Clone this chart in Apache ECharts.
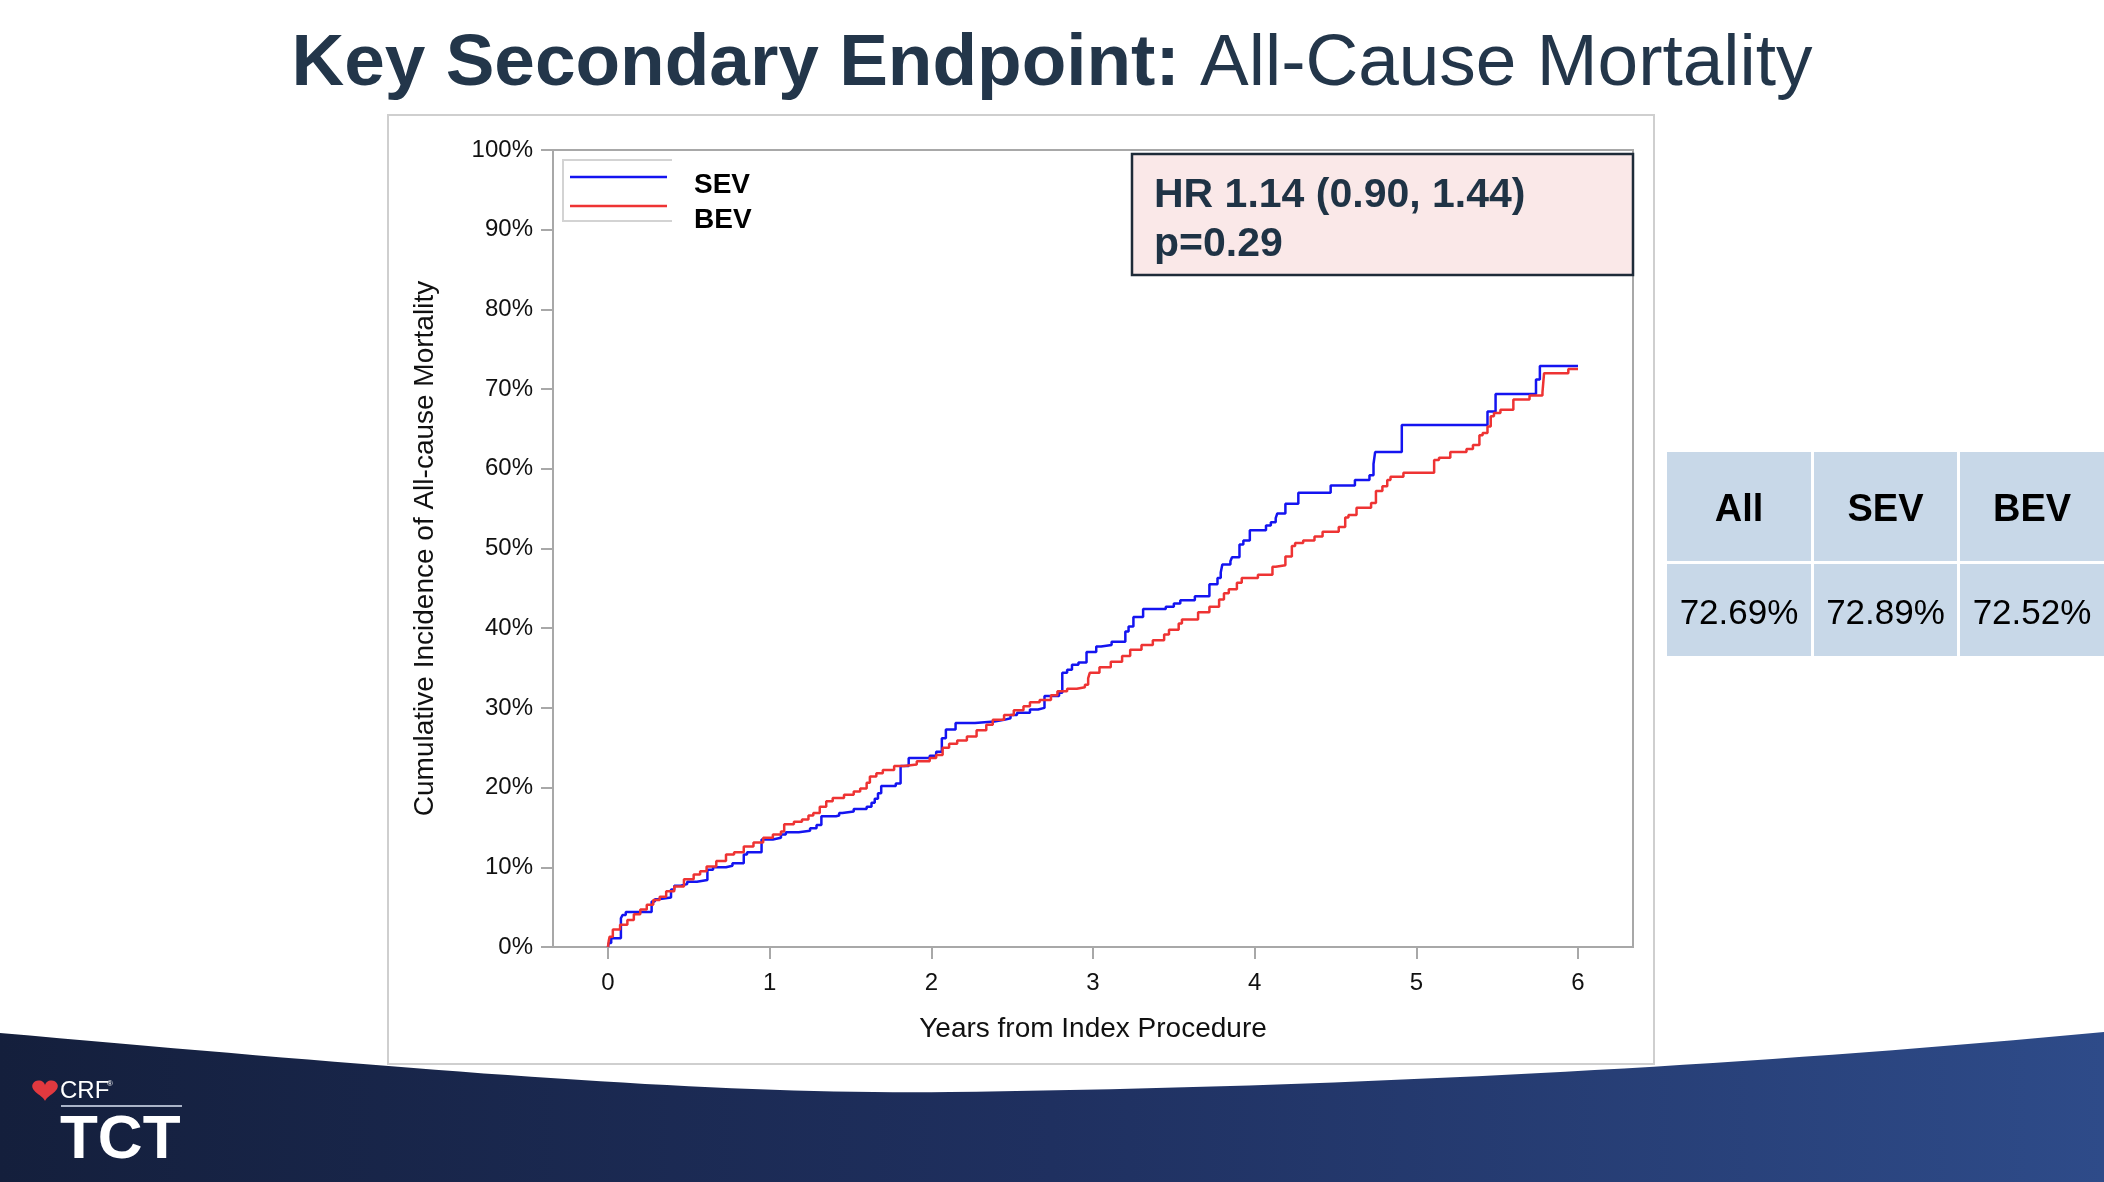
<!DOCTYPE html>
<html><head><meta charset="utf-8">
<script src="https://cdn.jsdelivr.net/npm/echarts@6.0.0/dist/echarts.min.js"></script>
<style>html,body{margin:0;padding:0;background:#fff;overflow:hidden}#c{width:2104px;height:1182px}</style>
</head><body><div id="c"></div>
<script>
// ---- data (years, cumulative incidence %) ----
const seriesNames = ['SEV', 'BEV'];
const sevData = [[0,0],[0.005,0.5],[0.02,1.1],[0.08,3.6],[0.09,4.0],[0.11,4.4],[0.27,5.7],[0.29,6.0],[0.31,6.2],[0.39,7.2],[0.41,7.7],[0.45,7.9],[0.49,8.2],[0.55,8.4],[0.615,9.7],[0.65,10.0],[0.73,10.2],[0.77,10.5],[0.84,11.6],[0.86,11.9],[0.95,13.5],[1.02,13.7],[1.07,14.1],[1.1,14.4],[1.18,14.6],[1.25,14.9],[1.29,15.3],[1.32,16.4],[1.41,16.5],[1.43,16.8],[1.45,17.0],[1.52,17.3],[1.6,17.6],[1.63,18.1],[1.65,18.6],[1.67,19.3],[1.69,20.2],[1.78,20.5],[1.81,22.7],[1.86,23.7],[1.99,24.0],[2.03,24.5],[2.065,26.2],[2.09,27.3],[2.15,28.1],[2.27,28.3],[2.39,28.5],[2.45,28.7],[2.49,29.1],[2.53,29.4],[2.61,29.8],[2.66,30.0],[2.70,31.5],[2.79,31.9],[2.81,34.4],[2.84,34.8],[2.87,35.4],[2.91,35.7],[2.96,37.0],[3.02,37.7],[3.05,37.9],[3.115,38.3],[3.20,39.6],[3.22,40.2],[3.25,41.4],[3.31,42.4],[3.45,42.7],[3.50,43.1],[3.54,43.5],[3.63,44.0],[3.72,45.5],[3.77,46.3],[3.79,47.0],[3.80,48.0],[3.85,48.4],[3.86,48.9],[3.906,50.5],[3.93,51.0],[3.97,52.3],[4.07,52.9],[4.10,53.3],[4.13,53.8],[4.14,54.4],[4.19,55.6],[4.27,57.0],[4.47,57.9],[4.62,58.6],[4.71,59.2],[4.735,60.6],[4.745,62.1],[4.91,65.5],[5.44,67.2],[5.49,69.4],[5.74,71.2],[5.764,72.89],[6.0,72.89]];
const bevData = [[0,0],[0.005,0.8],[0.01,1.3],[0.03,2.2],[0.075,2.8],[0.12,3.4],[0.16,4.1],[0.2,4.7],[0.24,5.3],[0.28,5.9],[0.32,6.3],[0.36,7.0],[0.41,7.6],[0.47,8.5],[0.53,9.1],[0.57,9.5],[0.61,10.1],[0.67,10.8],[0.73,11.6],[0.78,11.9],[0.84,12.6],[0.9,13.1],[0.96,13.7],[1.02,14.1],[1.07,14.5],[1.09,15.4],[1.15,15.7],[1.2,16.0],[1.24,16.5],[1.27,16.8],[1.31,17.6],[1.35,18.3],[1.39,18.7],[1.46,19.1],[1.52,19.5],[1.56,19.9],[1.60,20.6],[1.62,21.4],[1.66,21.8],[1.70,22.2],[1.77,22.7],[1.83,22.9],[1.91,23.3],[1.99,23.7],[2.03,24.1],[2.07,25.0],[2.11,25.5],[2.16,25.9],[2.22,26.4],[2.28,27.2],[2.34,27.9],[2.38,28.5],[2.45,29.1],[2.51,29.7],[2.57,30.2],[2.61,30.7],[2.67,31.0],[2.74,31.6],[2.78,32.1],[2.84,32.4],[2.90,32.6],[2.95,32.9],[2.97,33.7],[2.98,34.4],[3.04,35.1],[3.11,35.8],[3.18,36.5],[3.23,37.3],[3.30,37.9],[3.37,38.5],[3.44,39.2],[3.47,39.8],[3.53,40.6],[3.55,41.1],[3.65,42.0],[3.72,42.7],[3.78,43.6],[3.81,44.4],[3.84,44.9],[3.89,45.7],[3.92,46.3],[4.02,46.7],[4.11,47.7],[4.13,47.9],[4.19,49.0],[4.23,50.3],[4.25,50.7],[4.30,51.0],[4.37,51.5],[4.42,52.1],[4.52,52.7],[4.56,53.9],[4.58,54.2],[4.63,55.1],[4.72,55.7],[4.75,57.2],[4.79,57.8],[4.82,58.6],[4.84,59.0],[4.92,59.5],[5.11,61.1],[5.14,61.4],[5.21,62.1],[5.31,62.5],[5.35,63.0],[5.39,64.2],[5.41,64.5],[5.44,65.3],[5.46,66.6],[5.48,67.0],[5.52,67.4],[5.60,68.7],[5.70,69.2],[5.78,69.6],[5.79,72.0],[5.94,72.52],[6.0,72.52]];
const xTickValues = [0, 1, 2, 3, 4, 5, 6];
const tableHeaders = ['All', 'SEV', 'BEV'];
const tableValues = ['72.69%', '72.89%', '72.52%'];
const hrLines = ['HR 1.14 (0.90, 1.44)', 'p=0.29'];
const titleBold = 'Key Secondary Endpoint:';
const titleRegular = 'All-Cause Mortality';
const xAxisName = 'Years from Index Procedure';
const yAxisName = 'Cumulative Incidence of All-cause Mortality';

const FONT = "'Liberation Sans', Arial, Helvetica, sans-serif";
const chart = echarts.init(document.getElementById('c'), null, {renderer: 'canvas'});

// decorative footer band outline (two cubic bezier segments, sampled)
function cubic(p0, p1, p2, p3, n) {
  const out = [];
  for (let i = 0; i <= n; i++) {
    const t = i / n, u = 1 - t;
    out.push([u*u*u*p0[0] + 3*u*u*t*p1[0] + 3*u*t*t*p2[0] + t*t*t*p3[0],
              u*u*u*p0[1] + 3*u*u*t*p1[1] + 3*u*t*t*p2[1] + t*t*t*p3[1]]);
  }
  return out;
}
const bandPts = cubic([0,1033],[400,1068],[700,1095],[950,1092],40)
  .concat(cubic([950,1092],[1300,1088],[1700,1070],[2104,1032],40).slice(1))
  .concat([[2104,1182],[0,1182]]);
// decorative heart logo outline
const heartPts = [];
for (let i = 0; i < 60; i++) {
  const a = i / 60 * Math.PI * 2;
  const hx = 16 * Math.pow(Math.sin(a), 3);
  const hy = 13 * Math.cos(a) - 5 * Math.cos(2*a) - 2 * Math.cos(3*a) - Math.cos(4*a);
  heartPts.push([45 + hx * 0.8, 1089 - hy * 0.72]);
}

// table graphics
const colX = [1667, 1814, 1960], colW = [144, 143, 144];
const tableEls = [];
tableHeaders.forEach((h, i) => {
  tableEls.push({type: 'rect', shape: {x: colX[i], y: 452, width: colW[i], height: 109}, style: {fill: '#c8d8e8'}});
  tableEls.push({type: 'rect', shape: {x: colX[i], y: 564, width: colW[i], height: 92}, style: {fill: '#c8d8e8'}});
  tableEls.push({type: 'text', x: colX[i] + colW[i] / 2, y: 511, style: {text: h, font: 'bold 38px ' + FONT, fill: '#000', align: 'center', verticalAlign: 'middle'}});
  tableEls.push({type: 'text', x: colX[i] + colW[i] / 2, y: 614, style: {text: tableValues[i], font: '35px ' + FONT, fill: '#000', align: 'center', verticalAlign: 'middle'}});
});

const bandGradient = {type: 'linear', x: 0, y: 0, x2: 1, y2: 0, colorStops: [{offset: 0, color: '#141f3c'}, {offset: 0.5, color: '#1f3060'}, {offset: 1, color: '#2e4b89'}]};

const legendCommon = {left: 570, padding: 0, orient: 'vertical', selectedMode: false, icon: 'rect', itemWidth: 97, itemHeight: 2.5};
const option = {
  animation: false,
  backgroundColor: '#ffffff',
  title: {
    text: '{b|' + titleBold + ' }{r|' + titleRegular + '}',
    left: 'center', top: 23,
    textStyle: {
      rich: {
        b: {fontFamily: FONT, fontWeight: 'bold', fontSize: 73, color: '#23364a', lineHeight: 74},
        r: {fontFamily: FONT, fontWeight: 'normal', fontSize: 73, color: '#23364a', lineHeight: 74}
      }
    }
  },
  graphic: [
    {type: 'polygon', z: -20, shape: {points: bandPts}, style: {fill: bandGradient}},
    {type: 'rect', z: -10, shape: {x: 388, y: 115, width: 1266, height: 949}, style: {fill: '#ffffff', stroke: '#cfcfcf', lineWidth: 2}},
    {type: 'polyline', z: 5, shape: {points: [[672, 160], [563, 160], [563, 221], [672, 221]]}, style: {stroke: '#d3d3d3', lineWidth: 2}},
    {type: 'rect', z: 5, shape: {x: 1132, y: 154, width: 501, height: 121}, style: {fill: '#fae8e8', stroke: '#1e2b38', lineWidth: 2.5}},
    {type: 'text', z: 6, x: 1154, y: 196, style: {text: hrLines[0], font: 'bold 41px ' + FONT, fill: '#1f3345', verticalAlign: 'middle'}},
    {type: 'text', z: 6, x: 1154, y: 245, style: {text: hrLines[1], font: 'bold 41px ' + FONT, fill: '#1f3345', verticalAlign: 'middle'}},
    ...tableEls,
    {type: 'polygon', z: 5, shape: {points: heartPts}, style: {fill: '#e2393f'}},
    {type: 'text', z: 5, x: 60, y: 1091, style: {text: 'CRF', font: '24px ' + FONT, fill: '#ffffff', verticalAlign: 'middle'}},
    {type: 'text', z: 5, x: 107, y: 1084, style: {text: '®', font: '8px ' + FONT, fill: '#ffffff', verticalAlign: 'middle'}},
    {type: 'rect', z: 5, shape: {x: 61, y: 1105, width: 121, height: 2}, style: {fill: '#aab4c8'}},
    {type: 'text', z: 5, x: 60, y: 1141, style: {text: 'TCT', font: 'bold 62px ' + FONT, fill: '#ffffff', verticalAlign: 'middle'}}
  ],
  legend: [
    Object.assign({data: ['SEV'], top: 155, formatter: n => '{t|' + n + '}',
      textStyle: {fontFamily: FONT, fontSize: 28, fontWeight: 'bold', color: '#000', padding: [0, 0, 0, 22],
        rich: {t: {fontFamily: FONT, fontSize: 28, fontWeight: 'bold', color: '#000', lineHeight: 28, padding: [16, 0, 0, 0]}}}}, legendCommon),
    Object.assign({data: ['BEV'], top: 178, formatter: n => '{t|' + n + '}',
      textStyle: {fontFamily: FONT, fontSize: 28, fontWeight: 'bold', color: '#000', padding: [0, 0, 0, 22],
        rich: {t: {fontFamily: FONT, fontSize: 28, fontWeight: 'bold', color: '#000', lineHeight: 28, padding: [28, 0, 0, 0]}}}}, legendCommon)
  ],
  grid: {left: 553, right: 471, top: 150, bottom: 235, show: true, borderColor: '#a8a8a8', borderWidth: 2, backgroundColor: 'transparent', containLabel: false},
  xAxis: {
    type: 'value', min: -0.34, max: 6.34,
    name: xAxisName, nameLocation: 'middle', nameGap: 68,
    nameTextStyle: {fontFamily: FONT, fontSize: 28, color: '#111'},
    axisLine: {show: true, onZero: false, lineStyle: {color: '#a8a8a8', width: 2}},
    axisTick: {show: true, length: 12, lineStyle: {color: '#a8a8a8', width: 2}, customValues: xTickValues},
    axisLabel: {fontFamily: FONT, fontSize: 24, color: '#111', margin: 24, customValues: xTickValues, formatter: v => String(Math.round(v))},
    splitLine: {show: false}
  },
  yAxis: {
    type: 'value', min: 0, max: 100, interval: 10,
    name: yAxisName, nameLocation: 'middle', nameGap: 114,
    nameTextStyle: {fontFamily: FONT, fontSize: 28, color: '#111'},
    axisLine: {show: true, onZero: false, lineStyle: {color: '#a8a8a8', width: 2}},
    axisTick: {show: true, length: 12, lineStyle: {color: '#a8a8a8', width: 2}},
    axisLabel: {fontFamily: FONT, fontSize: 24, color: '#111', margin: 20, formatter: v => v + '%'},
    splitLine: {show: false}
  },
  series: [
    {name: seriesNames[0], type: 'line', step: 'end', symbol: 'none', data: sevData, color: '#1414f0', lineStyle: {color: '#1414f0', width: 2.5}, z: 3},
    {name: seriesNames[1], type: 'line', step: 'end', symbol: 'none', data: bevData, color: '#ee3333', lineStyle: {color: '#ee3333', width: 2.5}, z: 4}
  ]
};
chart.setOption(option);
</script>
</body></html>
